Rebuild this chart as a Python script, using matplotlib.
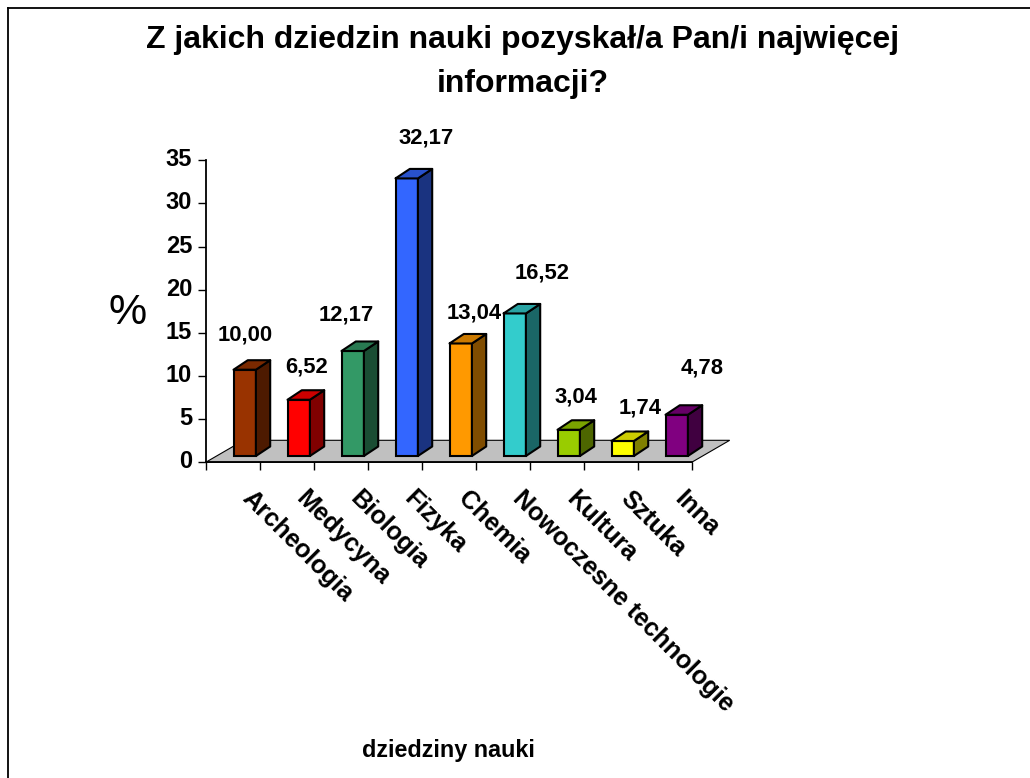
import matplotlib
matplotlib.use("Agg")
import matplotlib.pyplot as plt
from matplotlib.patches import Polygon
from matplotlib.colors import to_rgb
from matplotlib.transforms import ScaledTranslation

categories = ["Archeologia", "Medycyna", "Biologia", "Fizyka", "Chemia",
              "Nowoczesne technologie", "Kultura", "Sztuka", "Inna"]
values = [10.00, 6.52, 12.17, 32.17, 13.04, 16.52, 3.04, 1.74, 4.78]
colors = ["#993300", "#FF0000", "#339966", "#3366FF", "#FF9900",
          "#33CCCC", "#99CC00", "#FFFF00", "#800080"]
y_ticks = [0, 5, 10, 15, 20, 25, 30, 35]
title = "Z jakich dziedzin nauki pozyskał/a Pan/i najwięcej\ninformacji?"
x_title = "dziedziny nauki"
y_title = "%"

W, H = 1030, 778
plt.rcParams["font.family"] = ["Liberation Sans", "DejaVu Sans"]
fig = plt.figure(figsize=(W / 100, H / 100), dpi=100, facecolor="white")

# chart frame: open on the right and bottom of the picture
fig.add_artist(plt.Line2D([7.5 / W, 7.5 / W], [0, 1 - 7.5 / H], color="black", lw=1.3))
fig.add_artist(plt.Line2D([7.5 / W, 1], [1 - 7.5 / H, 1 - 7.5 / H], color="black", lw=1.3))

x0, x1 = 205.7, 691.7
y0, y1 = 462.3, 160.3
ax = fig.add_axes([x0 / W, 1 - y0 / H, (x1 - x0) / W, (y0 - y1) / H])
ax.set_xlim(0, len(categories))
ax.set_ylim(0, 35)
ax.patch.set_visible(False)
for s in ("top", "right"):
    ax.spines[s].set_visible(False)
for s in ("left", "bottom"):
    ax.spines[s].set_linewidth(1.3)

px_x = (x1 - x0) / len(categories)
px_y = (y0 - y1) / 35
floor_dx, floor_dy = 38 / px_x, 22 / px_y
bar_dx, bar_dy = 14.3 / px_x, 9.5 / px_y
shift_x, base = 12 / px_x, 6.3 / px_y
bar_w = 22.4 / px_x
lw = 1.5

# hand-placed data labels, pixel nudges from the top of each bar
label_dx = [-7, 1, -14, 12, 6, 20, 0, 10, 18]
label_dy = [25, 23, 26, 31, 21, 31, 23, 23, 37]

n = len(categories)
ax.add_patch(Polygon([(0, 0), (n, 0), (n + floor_dx, floor_dy), (floor_dx, floor_dy)],
                     closed=True, facecolor="#C0C0C0", edgecolor="black", lw=0.8,
                     clip_on=False, zorder=1))


def shade(c, f):
    return tuple(v * f for v in to_rgb(c))


for i, (v, c) in enumerate(zip(values, colors)):
    cx = i + 0.5 + shift_x
    l, r = cx - bar_w / 2, cx + bar_w / 2
    top = base + v
    ax.bar(cx, v, width=bar_w, bottom=base, color=c, edgecolor="black", lw=lw,
           zorder=3, clip_on=False)
    ax.add_patch(Polygon([(r, base), (r + bar_dx, base + bar_dy), (r + bar_dx, top + bar_dy), (r, top)],
                         closed=True, facecolor=shade(c, 0.5), edgecolor="black", lw=lw,
                         joinstyle="round", clip_on=False, zorder=3))
    ax.add_patch(Polygon([(l, top), (r, top), (r + bar_dx, top + bar_dy), (l + bar_dx, top + bar_dy)],
                         closed=True, facecolor=shade(c, 0.8), edgecolor="black", lw=lw,
                         joinstyle="round", clip_on=False, zorder=3))
    ax.annotate(f"{v:.2f}".replace(".", ","), (cx + bar_dx / 2, top + bar_dy),
                xytext=(label_dx[i], label_dy[i]), textcoords="offset pixels", ha="center", va="center",
                fontsize=15.8, fontweight="bold", annotation_clip=False)

ax.set_xticks(range(n + 1))
ax.set_xticklabels([])
ax.tick_params(axis="x", length=5.8, width=1.0, direction="out")
ax.set_yticks(y_ticks)
ax.tick_params(axis="y", length=5.8, width=1.0, direction="out", pad=4, labelsize=17)
up = ScaledTranslation(0, 3 / 100, fig.dpi_scale_trans)
for t in ax.get_yticklabels():
    t.set_fontweight("bold")
    t.set_transform(t.get_transform() + up)

for i, name in enumerate(categories):
    ax.annotate(name, (i + 0.5, 0), xytext=(22, -24), textcoords="offset pixels",
                ha="left", va="top", rotation=-45, rotation_mode="anchor",
                fontsize=18.2, fontweight="bold", annotation_clip=False)

fig.text(522.5 / W, 1 - 62 / H, title, ha="center", va="center", fontsize=23,
         fontweight="bold", linespacing=1.58)
fig.text(448 / W, 1 - 750 / H, x_title, ha="center", va="center", fontsize=16.8, fontweight="bold")
fig.text(128 / W, 1 - 313 / H, y_title, ha="center", va="center", fontsize=31)

fig.savefig("out.png", dpi=100, facecolor="white")
